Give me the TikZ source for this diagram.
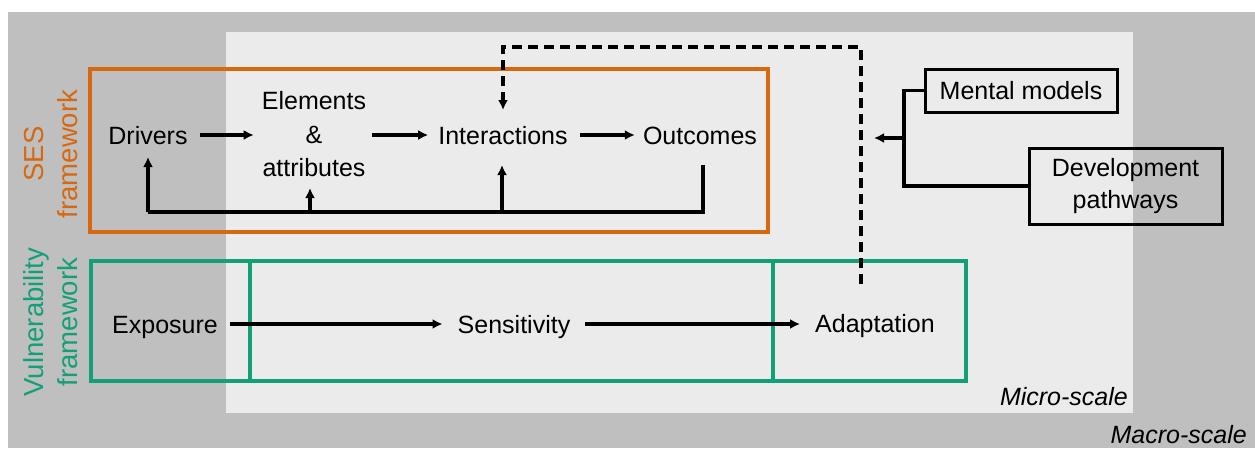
\documentclass[tikz,border=0pt]{standalone}
\usepackage{fontspec}
\setmainfont{Liberation Sans}
\usetikzlibrary{arrows.meta}
\definecolor{macro}{RGB}{191,191,191}
\definecolor{micro}{RGB}{235,235,235}
\definecolor{sesor}{RGB}{214,104,16}
\definecolor{vulgr}{RGB}{18,160,120}
\begin{document}
\begin{tikzpicture}[x=1pt,y=-1pt,
  lbl/.style={font=\fontsize{25}{33}\selectfont, inner sep=0pt, text height=18pt, text depth=0pt},
  mlbl/.style={font=\fontsize{25}{33.5}\selectfont, inner sep=0pt, align=center},
  vlbl/.style={font=\fontsize{27.5}{34}\selectfont, inner sep=0pt, align=center, rotate=90},
  boxnode/.style={draw=black, line width=3pt, font=\fontsize{25}{32}\selectfont, align=center, inner sep=0pt},
  conn/.style={line width=3.2pt, line join=miter},
  arr/.style={conn, -{Latex[length=10pt,width=10pt]}},
  dasharr/.style={conn, dash pattern=on 10pt off 6pt, -{Latex[length=10pt,width=10pt]}},
  scalelbl/.style={font=\fontsize{25}{30}\selectfont\itshape, inner sep=0pt, anchor=base east},
]
\useasboundingbox (0,0) rectangle (1255,448);
\fill[white] (0,0) rectangle (1255,448);
% scales
\fill[macro] (8,12) rectangle (1255,448);
\fill[micro] (226,32) rectangle (1133,413);
\node[scalelbl] (micro) at (1128,405) {Micro-scale};
\node[scalelbl] (macro) at (1247,443) {Macro-scale};
% frames
\draw[sesor, line width=3.2pt] (90,69) rectangle (768,232);
\draw[vulgr, line width=3.2pt] (91,261) rectangle (966,381);
\draw[vulgr, line width=3.2pt] (250,261) -- (250,381);
\draw[vulgr, line width=3.2pt] (773,261) -- (773,381);
\node[vlbl, text=sesor] (seslbl) at (51,154) {SES\\framework};
\node[vlbl, text=vulgr] (vullbl) at (51,322) {Vulnerability\\framework};
% SES nodes
\node[lbl] (drv) at (148,135) {Drivers};
\node[mlbl] (ele) at (314,134.5) {Elements\\\&\\attributes};
\node[lbl] (int) at (503,135) {Interactions};
\node[lbl] (out) at (700,135) {Outcomes};
\draw[arr] ([xshift=12pt]drv.east) -- ([xshift=-8pt]ele.west |- drv.east);
\draw[arr] ([xshift=6pt]ele.east |- int.west) -- ([xshift=-10pt]int.west);
\draw[arr] ([xshift=12pt]int.east) -- ([xshift=-8pt]out.west);
% feedback
\coordinate (fbR) at (703,212);
\coordinate (fbL) at (148,212);
\coordinate (eleIn) at (310,188);
\coordinate (intIn) at (502,165);
\coordinate (outOut) at (703,165);
\coordinate (drvIn) at (148,157);
\draw[conn] (outOut) -- (fbR) -- (fbL);
\draw[arr] (fbL) -- (drvIn);
\draw[arr] (eleIn |- fbR) -- (eleIn);
\draw[arr] (intIn |- fbR) -- (intIn);
% vulnerability nodes
\node[lbl] (exp) at (165,324) {Exposure};
\node[lbl] (sen) at (514,324) {Sensitivity};
\node[lbl] (ada) at (875,323) {Adaptation};
\draw[arr] ([xshift=12pt]exp.east) -- ([xshift=-15pt]sen.west);
\draw[arr] ([xshift=15pt]sen.east) -- ([xshift=-15pt]ada.west |- sen.east);
% dashed adaptation -> interactions
\coordinate (adaOut) at (861,284);
\coordinate (dcorner) at (861,47);
\coordinate (intTop) at (503,110);
\draw[dasharr] (adaOut) -- (dcorner) -| (intTop);
% macro-scale boxes
\node[boxnode, minimum width=192pt, minimum height=43pt] (mm) at (1021,90.5) {Mental models};
\node[boxnode, minimum width=193pt, minimum height=76pt] (dp) at (1125.5,186) {Development\\pathways};
\coordinate (jn) at (904,138);
\coordinate (jnTip) at (874,138);
\draw[conn] (mm.west) -| (jn);
\draw[conn] (dp.west) -| (jn);
\draw[arr] (jn) -- (jnTip);
\end{tikzpicture}
\end{document}
